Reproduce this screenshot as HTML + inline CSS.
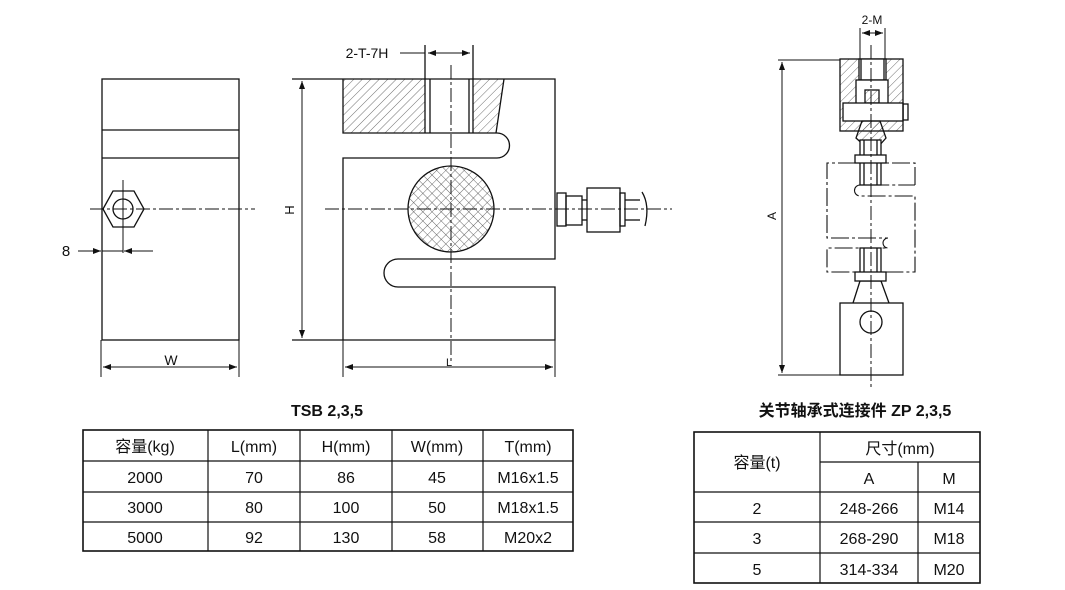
<!DOCTYPE html>
<html><head><meta charset="utf-8"><style>
html,body{margin:0;padding:0;background:#fff}
svg{display:block}
text{font-family:"Liberation Sans","Noto Sans CJK SC",sans-serif;fill:#111}
</style></head><body>
<svg width="1065" height="590" viewBox="0 0 1065 590" xmlns="http://www.w3.org/2000/svg">
<defs>
<pattern id="h1" width="6" height="6" patternUnits="userSpaceOnUse" patternTransform="rotate(45)"><line x1="0" y1="0" x2="0" y2="6" stroke="#333" stroke-width="0.7"/></pattern>
<pattern id="x1" width="6.5" height="6.5" patternUnits="userSpaceOnUse" patternTransform="rotate(45)"><path d="M0 0V6.5M0 0H6.5" stroke="#333" stroke-width="0.7"/></pattern>
<marker id="ar" markerWidth="8" markerHeight="6" refX="8" refY="3" orient="auto-start-reverse" markerUnits="userSpaceOnUse"><path d="M0 0L8 3L0 6Z" fill="#111"/></marker>
</defs>
<g fill="none" stroke="#111" stroke-width="1.3">
<!-- left view -->
<rect x="102" y="79" width="137" height="261"/>
<line x1="102" y1="130" x2="239" y2="130"/><line x1="102" y1="158" x2="239" y2="158"/>
<polygon points="103,209 113,191 134,191 144,209 134,227 113,227"/>
<circle cx="123" cy="209" r="10"/>
<line x1="90" y1="209" x2="255" y2="209" stroke-dasharray="14,3,3,3" stroke-width="1"/>
<line x1="123" y1="180" x2="123" y2="253" stroke-width="1"/>
<line x1="78" y1="251" x2="101" y2="251" marker-end="url(#ar)" stroke-width="1"/>
<line x1="153" y1="251" x2="124" y2="251" marker-end="url(#ar)" stroke-width="1"/>
<line x1="102" y1="251" x2="123" y2="251" stroke-width="1"/>
<line x1="101" y1="340" x2="101" y2="377" stroke-width="1"/><line x1="239" y1="340" x2="239" y2="377" stroke-width="1"/>
<line x1="103" y1="367" x2="237" y2="367" marker-start="url(#ar)" marker-end="url(#ar)" stroke-width="1"/>

<!-- middle view -->
<rect x="343" y="79" width="82" height="54" fill="url(#h1)" stroke="none"/>
<polygon points="473,79 504,79 496,133 473,133" fill="url(#h1)" stroke="none"/>
<path d="M292 79H555V259H398A14 14 0 0 0 398 287H555V340H292"/>
<path d="M343 340V158H497A12.5 12.5 0 0 0 497 133H343V79"/>
<path d="M504 79L496 133"/>
<line x1="425" y1="45" x2="425" y2="133"/><line x1="473" y1="45" x2="473" y2="133"/>
<line x1="430" y1="79" x2="430" y2="133"/><line x1="469" y1="79" x2="469" y2="133"/>
<circle cx="451" cy="209" r="43" fill="url(#x1)"/>
<line x1="451" y1="65" x2="451" y2="363" stroke-dasharray="14,3,3,3" stroke-width="1"/>
<line x1="325" y1="209" x2="672" y2="209" stroke-dasharray="14,3,3,3" stroke-width="1"/>
<line x1="400" y1="53" x2="425" y2="53" stroke-width="1"/>
<line x1="428" y1="53" x2="470" y2="53" marker-start="url(#ar)" marker-end="url(#ar)" stroke-width="1"/>
<line x1="302" y1="81" x2="302" y2="338" marker-start="url(#ar)" marker-end="url(#ar)" stroke-width="1"/>
<line x1="343" y1="340" x2="343" y2="377" stroke-width="1"/><line x1="555" y1="340" x2="555" y2="377" stroke-width="1"/>
<line x1="345" y1="367" x2="553" y2="367" marker-start="url(#ar)" marker-end="url(#ar)" stroke-width="1"/>
<rect x="557" y="193" width="9" height="33"/><rect x="566" y="196" width="16" height="29"/>
<rect x="587" y="188" width="33" height="44"/><rect x="620" y="193" width="5" height="33"/>
<line x1="582" y1="200" x2="587" y2="200"/><line x1="582" y1="220" x2="587" y2="220"/>
<line x1="625" y1="200" x2="640" y2="200"/><line x1="625" y1="220" x2="640" y2="220"/>
<path d="M642 192Q650 205 645 226"/>

<!-- right view -->
<rect x="840" y="59" width="63" height="72" fill="url(#h1)"/>
<rect x="859" y="59" width="27" height="21" fill="#fff"/>
<line x1="861" y1="59" x2="861" y2="80"/><line x1="884" y1="59" x2="884" y2="80"/>
<rect x="856" y="80" width="32" height="40" fill="#fff"/>
<rect x="865" y="90" width="14" height="13" fill="url(#h1)"/>
<rect x="843" y="103" width="60" height="18" fill="#fff"/>
<rect x="903" y="104" width="5" height="16"/>
<polygon points="862,121 880,121 886,138 878,147 866,147 856,138" fill="url(#h1)"/>
<line x1="860" y1="28" x2="860" y2="59" stroke-width="1"/><line x1="885" y1="28" x2="885" y2="59" stroke-width="1"/>
<line x1="862" y1="33" x2="883" y2="33" marker-start="url(#ar)" marker-end="url(#ar)" stroke-width="1"/>
<path d="M915 185V163H827V238H888A5 5 0 0 0 888 248H827V272H915V196H860A5.5 5.5 0 0 1 860 185H915" stroke-dasharray="18,3,3,3" stroke-width="1.1"/>
<rect x="860" y="140" width="21" height="45" fill="#fff"/>
<line x1="864" y1="140" x2="864" y2="185"/><line x1="877" y1="140" x2="877" y2="185"/>
<rect x="855" y="155" width="31" height="8" fill="#fff"/>
<rect x="860" y="248" width="21" height="33" fill="#fff"/>
<line x1="864" y1="248" x2="864" y2="281"/><line x1="877" y1="248" x2="877" y2="281"/>
<rect x="855" y="272" width="31" height="9" fill="#fff"/>
<path d="M860 281L853 303M881 281L889 303"/>
<rect x="840" y="303" width="63" height="72"/>
<circle cx="871" cy="322" r="11"/>
<line x1="871" y1="45" x2="871" y2="390" stroke-dasharray="14,3,3,3" stroke-width="1"/>
<line x1="778" y1="60" x2="840" y2="60" stroke-width="1"/><line x1="778" y1="375" x2="840" y2="375" stroke-width="1"/>
<line x1="782" y1="62" x2="782" y2="373" marker-start="url(#ar)" marker-end="url(#ar)" stroke-width="1"/>

<!-- tables -->
<rect x="83" y="430" width="490" height="121" stroke-width="1.6"/>
<path d="M83 461H573M83 492H573M83 522H573M208 430V551M300 430V551M392 430V551M483 430V551" stroke-width="1.2"/>
<rect x="694" y="432" width="286" height="151" stroke-width="1.6"/>
<path d="M820 462H980M694 492H980M694 522H980M694 553H980M820 432V583M918 462V583" stroke-width="1.2"/>
</g>
<g font-size="14">
<text x="66" y="256" font-size="15" text-anchor="middle">8</text>
<text x="171" y="365" text-anchor="middle">W</text>
<text x="367" y="58" text-anchor="middle">2-T-7H</text>
<text x="449" y="366" font-size="11" text-anchor="middle">L</text>
<text x="294" y="210" font-size="13" text-anchor="middle" transform="rotate(-90 294 210)">H</text>
<text x="872" y="24" font-size="12" text-anchor="middle">2-M</text>
<text x="776" y="216" font-size="12" text-anchor="middle" transform="rotate(-90 776 216)">A</text>
<text x="327" y="416" font-size="16" font-weight="bold" text-anchor="middle">TSB 2,3,5</text>
<text x="855" y="416" font-size="16" font-weight="bold" text-anchor="middle">关节轴承式连接件 ZP 2,3,5</text>
</g>
<g font-size="16" text-anchor="middle">
<text x="145" y="452">容量(kg)</text><text x="254" y="452">L(mm)</text><text x="346" y="452">H(mm)</text><text x="437" y="452">W(mm)</text><text x="528" y="452">T(mm)</text>
<text x="145" y="483">2000</text><text x="254" y="483">70</text><text x="346" y="483">86</text><text x="437" y="483">45</text><text x="528" y="483">M16x1.5</text>
<text x="145" y="513">3000</text><text x="254" y="513">80</text><text x="346" y="513">100</text><text x="437" y="513">50</text><text x="528" y="513">M18x1.5</text>
<text x="145" y="543">5000</text><text x="254" y="543">92</text><text x="346" y="543">130</text><text x="437" y="543">58</text><text x="528" y="543">M20x2</text>
<text x="757" y="468">容量(t)</text><text x="900" y="454">尺寸(mm)</text>
<text x="869" y="484">A</text><text x="949" y="484">M</text>
<text x="757" y="514">2</text><text x="869" y="514">248-266</text><text x="949" y="514">M14</text>
<text x="757" y="544">3</text><text x="869" y="544">268-290</text><text x="949" y="544">M18</text>
<text x="757" y="575">5</text><text x="869" y="575">314-334</text><text x="949" y="575">M20</text>
</g>
</svg>
</body></html>
